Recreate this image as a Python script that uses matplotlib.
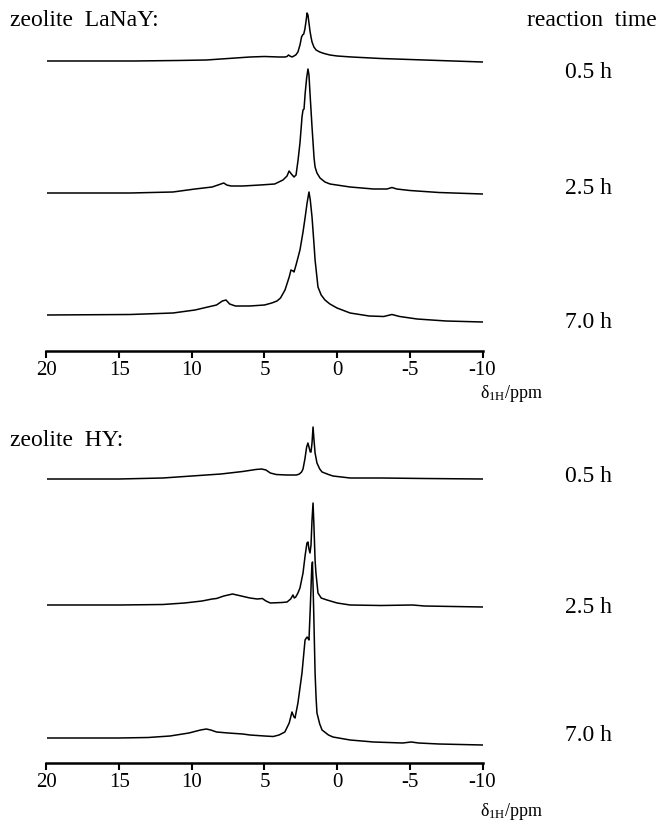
import matplotlib
matplotlib.use("Agg")
import matplotlib.pyplot as plt

# 1H MAS NMR spectra, intensities in arbitrary units (height above the left baseline)
lanay_05_ppm = [20, 14, 11, 9, 7.5, 6, 5, 4, 3.6, 3.45, 3.35, 3.25, 3.1, 2.85, 2.7, 2.56, 2.45,
                2.38, 2.3, 2.22, 2.14, 2.07, 2.01, 1.94, 1.87, 1.8, 1.73, 1.6, 1.45, 1.2, 0.9,
                0.5, 0, -1, -3, -5, -7, -10]
lanay_05_int = [0, 0, 0.5, 1, 2.5, 4, 4.5, 4, 4, 4.5, 6, 5, 4, 6, 9, 16, 24,
                26, 27, 32, 40, 48, 46, 38, 30, 24, 19, 14, 11, 9, 7.5,
                6, 5, 4, 2.5, 1.5, 0.5, -1]

lanay_25_ppm = [20, 14.25, 11.3, 9.78, 8.6, 8.0, 7.8, 7.6, 7.3, 6.5, 5.3, 4.3, 3.73, 3.45, 3.31,
                3.15, 2.97, 2.83, 2.69, 2.56, 2.45, 2.42, 2.35, 2.28, 2.2, 2.1, 2.01, 1.94, 1.87,
                1.73, 1.59, 1.52, 1.39, 1.18, 0.84, 0.49, -0.89, -2.5, -3.43, -3.77, -4.1, -5,
                -7, -10]
lanay_25_int = [0, 0, 1, 4, 6, 9, 10, 8, 7, 7, 8, 9, 13, 17, 22,
                19, 16, 18, 33, 50, 70, 76, 83, 84, 100, 115, 124, 118, 100,
                66, 35, 26, 20, 15, 11, 9, 6, 4, 4, 5.5, 4, 2.5,
                0.5, -1]

lanay_70_ppm = [20, 14.25, 11.3, 9.78, 8.9, 8.3, 7.9, 7.65, 7.4, 7.0, 6.0, 5.0, 4.5, 4.14, 3.9,
                3.59, 3.3, 3.18, 3.04, 2.97, 2.83, 2.56, 2.35, 2.2, 2.07, 1.94, 1.85, 1.73, 1.59,
                1.52, 1.32, 1.1, 0.84, 0.5, 0.01, -0.89, -2.2, -3.2, -3.77, -4.3, -5.5, -7.5, -10]
lanay_70_int = [0, 0.5, 2, 5, 8, 10, 14, 15, 11, 9, 9, 10, 12, 14, 17,
                25, 38, 45, 44, 43, 50, 65, 83, 98, 112, 123, 115, 98, 70,
                55, 28, 20, 15, 11, 7, 2, -1, -1.5, 0.5, -1.5, -4, -6, -7]

hy_05_ppm = [20, 15, 12, 10, 8, 6.5, 5.6, 5.2, 4.9, 4.6, 4.2, 3.5, 2.8, 2.6, 2.45, 2.35, 2.22,
             2.1, 2.01, 1.94, 1.85, 1.8, 1.73, 1.66, 1.6, 1.52, 1.39, 1.2, 1.04, 0.6, 0.29,
             -0.89, -3, -6, -10]
hy_05_int = [0, 0, 1, 3, 5, 7.5, 9.5, 10, 9, 6, 4.5, 4, 4, 5, 7, 10, 20,
             32, 36, 32, 27, 27, 36, 52, 40, 26, 16, 10, 7, 4.5, 3,
             1, 1, 0.5, 0]

hy_25_ppm = [20, 15, 12, 10.5, 9.3, 8.6, 8.3, 7.8, 7.2, 6.6, 6.0, 5.5, 5.15, 4.9, 4.6, 3.8,
             3.45, 3.2, 3.04, 2.95, 2.85, 2.7, 2.56, 2.35, 2.2, 2.08, 2.01, 1.94, 1.87, 1.8,
             1.73, 1.66, 1.6, 1.52, 1.46, 1.32, 1.1, 0.7, 0, -0.89, -3, -5.2, -6, -10]
hy_25_int = [0, 0, 0.5, 2, 4, 6, 6.5, 9, 11, 9, 7, 6, 6.5, 4, 2, 2.5,
             3, 6, 10, 7, 8, 12, 17, 32, 50, 62, 63, 56, 52, 60,
             85, 102, 80, 45, 32, 12, 7, 5, 2, 0, -0.5, 0, -1, -2]

hy_70_ppm = [20, 15, 13, 11.5, 10.2, 9.4, 9.0, 8.7, 8.3, 7.5, 6.5, 6, 5, 4.4, 4.0, 3.6, 3.3,
             3.11, 2.97, 2.9, 2.7, 2.42, 2.21, 2.07, 1.98, 1.94, 1.85, 1.75, 1.7, 1.62, 1.52,
             1.45, 1.39, 1.2, 1.04, 0.6, 0.29, -0.89, -2.5, -4.5, -5.1, -5.6, -7, -10]
hy_70_int = [0, 0, 0.5, 2, 5, 8, 9, 8, 6, 5, 4, 3, 2, 1.5, 3, 6, 15,
             26, 21, 20, 35, 65, 98, 101, 99, 98, 130, 170, 176, 130, 65,
             40, 25, 14, 8, 3, 1, -2, -4, -5, -4, -5, -6, -7]

times = ["0.5 h", "2.5 h", "7.0 h"]
xticks = [20, 15, 10, 5, 0, -5, -10]

W, H = 667, 822
plt.rcParams["font.family"] = ["Liberation Serif", "DejaVu Serif"]
plt.rcParams["mathtext.fontset"] = "custom"
plt.rcParams["mathtext.rm"] = "Liberation Serif"
plt.rcParams["mathtext.it"] = "Liberation Serif:italic"

fig = plt.figure(figsize=(W / 100, H / 100), dpi=100)


def fx(px):
    return px / W


def fy(py):
    return 1 - py / H


def panel(axis_y, top_y, traces, baselines):
    # axes measured in pixels so that the offsets match the picture
    ax = fig.add_axes([fx(46.5), fy(axis_y), fx(482.5 - 46.5), (axis_y - top_y) / H])
    ax.set_xlim(20, -10)
    ax.set_ylim(0, axis_y - top_y)
    for (ppm, inten), base in zip(traces, baselines):
        off = axis_y - base
        ax.plot(ppm, [v + off for v in inten], color="black", lw=1.1)
    for s in ["top", "left", "right"]:
        ax.spines[s].set_visible(False)
    ax.spines["bottom"].set_linewidth(1.8)
    ax.set_yticks([])
    ax.set_xticks(xticks)
    ax.set_xticklabels([str(t) for t in xticks])
    ax.tick_params(axis="x", direction="out", length=5, width=1.5, labelsize=15, pad=2)
    ax.patch.set_alpha(0)
    return ax


panel(351, 0,
      [(lanay_05_ppm, lanay_05_int), (lanay_25_ppm, lanay_25_int), (lanay_70_ppm, lanay_70_int)],
      [61, 193, 315])
panel(763, 400,
      [(hy_05_ppm, hy_05_int), (hy_25_ppm, hy_25_int), (hy_70_ppm, hy_70_int)],
      [479, 605, 738])

txt = dict(fontsize=17, va="center", ha="left")
fig.text(fx(10), fy(20), "zeolite  LaNaY:", **txt)
fig.text(fx(527), fy(20), "reaction  time", **txt)
fig.text(fx(10), fy(440), "zeolite  HY:", **txt)
for label, y in zip(times, [72, 188, 322]):
    fig.text(fx(565), fy(y), label, **txt)
for label, y in zip(times, [476, 607, 735]):
    fig.text(fx(565), fy(y), label, **txt)

xlab = r"$\mathrm{\delta}_{\mathrm{1H}}$/ppm"
fig.text(fx(480), fy(393), xlab, fontsize=13, va="center", ha="left")
fig.text(fx(480), fy(811), xlab, fontsize=13, va="center", ha="left")

fig.savefig("out.png", dpi=100)
